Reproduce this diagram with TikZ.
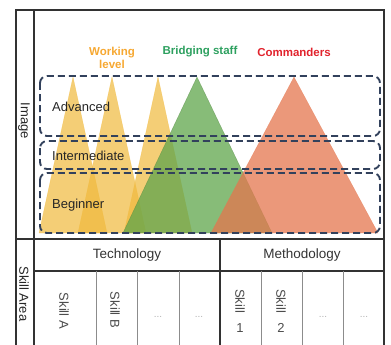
\documentclass[tikz,border=0pt]{standalone}
\usepackage{fontspec}
\setmainfont{Liberation Sans}
\usetikzlibrary{positioning}

\definecolor{dashblue}{RGB}{50,65,92}
\definecolor{workfill}{RGB}{240,185,60}
\definecolor{bridgefill}{RGB}{95,165,75}
\definecolor{commfill}{RGB}{228,118,78}
\definecolor{worktext}{RGB}{246,168,50}
\definecolor{bridgetext}{RGB}{45,160,95}
\definecolor{commtext}{RGB}{225,35,45}
\definecolor{gridline}{RGB}{50,50,50}

\begin{document}
\begin{tikzpicture}[x=1pt,y=-1pt,
        frameline/.style={draw=gridline, line width=1.2pt},
        cellline/.style={draw=black!45, line width=0.7pt},
        levelbox/.style={draw=dashblue, line width=1.9pt, dash pattern=on 7pt off 4pt, rounded corners=7pt},
        pyramid/.style={fill opacity=0.7, draw opacity=0.5, line width=0.4pt},
        leveltext/.style={anchor=west, inner sep=0pt, text=black!85, font=\fontsize{13}{15}\selectfont},
        grouptext/.style={align=center, inner sep=0pt, font=\bfseries\fontsize{11.5}{12.5}\selectfont},
        headtext/.style={text=black!80, font=\fontsize{13.5}{15}\selectfont},
        sidetext/.style={text=black!85, rotate=-90, font=\fontsize{13}{15}\selectfont},
        skilltext/.style={text=black!70, rotate=-90, font=\fontsize{13}{15}\selectfont},
        digittext/.style={text=black!70, font=\fontsize{13}{15}\selectfont},
        dotstext/.style={text=black!30, font=\fontsize{10}{12}\selectfont}]
        \useasboundingbox (0,0) rectangle (391,345);

        \foreach \ax in {73,112,158}
            \filldraw[fill=workfill, draw=workfill, pyramid] (\ax-34,233) -- (\ax,77) -- (\ax+34,233) -- cycle;
        \filldraw[fill=bridgefill, draw=bridgefill!80!black, pyramid, fill opacity=0.75] (123,233) -- (197,77) -- (272,233) -- cycle;
        \filldraw[fill=commfill, draw=commfill, pyramid, fill opacity=0.75] (211,233) -- (294,77) -- (378,233) -- cycle;

        \draw[levelbox] (40,76) rectangle (380,136);
        \draw[levelbox] (40,141) rectangle (380,169);
        \draw[levelbox] (40,173) rectangle (380,233);

        \node[leveltext] (advanced) at (52,107) {Advanced};
        \node[leveltext] (intermediate) at (52,156) {Intermediate};
        \node[leveltext] (beginner) at (52,205) {Beginner};

        \node[grouptext, text=worktext] (working) at (112,58) {Working\\level};
        \node[grouptext, text=bridgetext] (bridging) at (200,52) {Bridging staff};
        \node[grouptext, text=commtext] (commanders) at (294,52) {Commanders};

        \draw[frameline] (16,345) -- (16,10) -- (384,10) -- (384,345);
        \draw[frameline] (34,10) -- (34,345);
        \draw[frameline] (16,239) -- (384,239);
        \draw[frameline] (34,271) -- (384,271);
        \draw[frameline] (220,239) -- (220,345);
        \foreach \cx in {96,137,179,261,302,343}
            \draw[cellline] (\cx,271) -- (\cx,345);

        \node[sidetext] (image) at (24,121) {Image};
        \node[sidetext] (skillarea) at (24,294) {Skill Area};
        \node[headtext] (technology) at (127,255) {Technology};
        \node[headtext] (methodology) at (302,255) {Methodology};

        \node[skilltext] (skilla) at (64,311) {Skill A};
        \node[skilltext] (skillb) at (115,310) {Skill B};
        \node[dotstext] (dotsa) at (158,317) {...};
        \node[dotstext] (dotsb) at (199,317) {...};
        \node[skilltext] (skillone) at (240,301) {Skill};
        \node[digittext] (one) at (240,328) {1};
        \node[skilltext] (skilltwo) at (281,301) {Skill};
        \node[digittext] (two) at (281,328) {2};
        \node[dotstext] (dotsc) at (323,317) {...};
        \node[dotstext] (dotsd) at (364,317) {...};
\end{tikzpicture}
\end{document}
